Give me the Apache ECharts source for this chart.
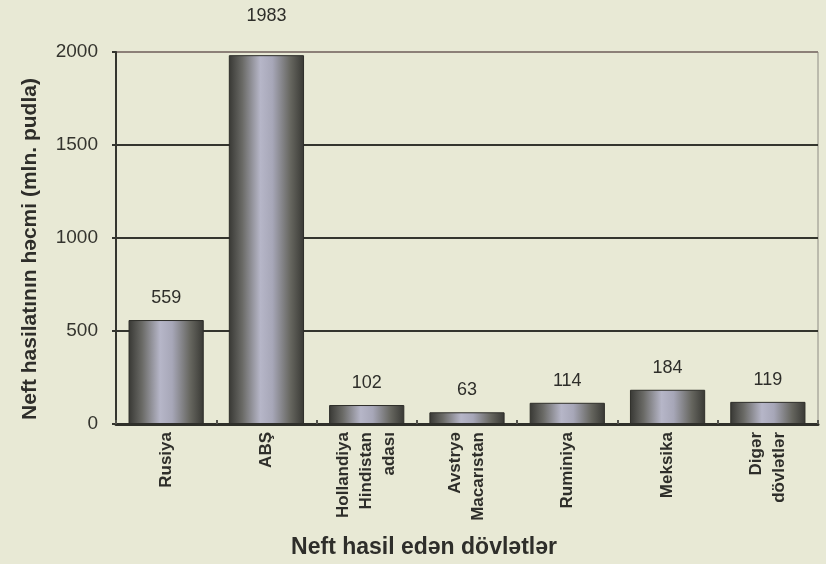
<!DOCTYPE html>
<html>
<head>
<meta charset="utf-8">
<script src="https://cdn.jsdelivr.net/npm/echarts@6/dist/echarts.min.js"></script>
<style>
  html, body { margin: 0; padding: 0; background: #e8e9d5; }
  #chart { width: 826px; height: 564px; }
</style>
</head>
<body>
<div id="chart"></div>
<script>
// Oil producing countries and their output (mln. pud)
const countries = [
  'Rusiya',
  'ABŞ',
  'Hollandiya\nHindistan\nadası',
  'Avstryə\nMacarıstan',
  'Ruminiya',
  'Meksika',
  'Digər\ndövlətlər'
];
const output = [559, 1983, 102, 63, 114, 184, 119];
const yTicks = [0, 500, 1000, 1500, 2000];

// Cylinder-like shading across each bar
const barFill = new echarts.graphic.LinearGradient(0, 0, 1, 0, [
  { offset: 0, color: '#383834' },
  { offset: 0.18, color: '#6a6a66' },
  { offset: 0.42, color: '#b6b6c8' },
  { offset: 0.58, color: '#a7a7b8' },
  { offset: 0.82, color: '#66665f' },
  { offset: 1, color: '#383834' }
]);

const chart = echarts.init(document.getElementById('chart'));
chart.setOption({
  backgroundColor: '#e8e9d5',
  animation: false,
  grid: {
    left: 116, right: 8, top: 52, bottom: 139,
    show: true, borderColor: '#8e8c84', borderWidth: 1,
    backgroundColor: 'transparent'
  },
  xAxis: {
    type: 'category',
    data: countries,
    name: 'Neft hasil edən dövlətlər',
    nameLocation: 'middle',
    nameGap: 112,
    nameTextStyle: {
      fontFamily: 'Liberation Sans', fontWeight: 'bold', fontSize: 23, color: '#2e2e2a',
      padding: [0, 86, 0, 0]
    },
    axisLine: { lineStyle: { color: '#2f302a', width: 3 } },
    axisTick: { show: true, inside: true, length: 4, lineStyle: { color: '#55554e', width: 2 } },
    axisLabel: {
      rotate: 90, margin: 8, interval: 0,
      fontFamily: 'Liberation Sans', fontWeight: 'bold', fontSize: 17,
      lineHeight: 23, color: '#2e2e2a'
    }
  },
  yAxis: {
    type: 'value',
    min: yTicks[0],
    max: yTicks[yTicks.length - 1],
    interval: yTicks[1] - yTicks[0],
    name: 'Neft hasilatının həcmi (mln. pudla)',
    nameLocation: 'middle',
    nameGap: 75,
    nameTextStyle: {
      fontFamily: 'Liberation Sans', fontWeight: 'bold', fontSize: 21, color: '#2e2e2a',
      padding: [0, 22, 0, 0]
    },
    axisLine: { show: true, lineStyle: { color: '#34352e', width: 2 } },
    axisTick: { show: true, length: 4, lineStyle: { color: '#34352e', width: 2 } },
    axisLabel: {
      margin: 18, fontFamily: 'Liberation Sans', fontSize: 19, color: '#34342e',
      formatter: function (v) { return String(v); }
    },
    splitLine: {
      show: true,
      lineStyle: { color: ['#34352e', '#34352e', '#34352e', '#34352e', '#8c8078'], width: 2 }
    }
  },
  series: [{
    type: 'bar',
    barWidth: '75%',
    data: output.map(function (v) {
      const item = { value: v };
      if (v === Math.max.apply(null, output)) {
        item.label = { offset: [0, -17] };
      }
      return item;
    }),
    itemStyle: { color: barFill, borderColor: '#2e2e2a', borderWidth: 1 },
    label: {
      show: true, position: 'top', distance: 13,
      fontFamily: 'Liberation Sans', fontSize: 18, color: '#2e2e2a'
    }
  }]
});
</script>
</body>
</html>
